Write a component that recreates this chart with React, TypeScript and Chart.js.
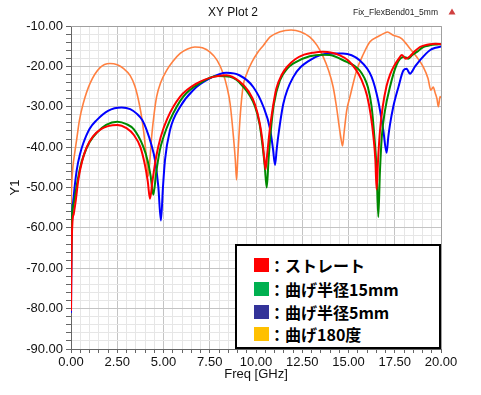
import React, { useEffect, useRef } from 'react';
import { Chart, registerables } from 'chart.js';

Chart.register(...registerables);

// ---- data ----
const seriesNames = ['：ストレート', '：曲げ半径15mm', '：曲げ半径5mm', '：曲げ180度'];
const legendColors = ['#ff0000', '#00b050', '#333399', '#ffc000'];
const lineColors = ['#ff0000', '#008a00', '#0000ff', '#ff8040'];

const xTickMajor = [0, 2.5, 5, 7.5, 10, 12.5, 15, 17.5, 20];
const yTickMajor = [-90, -80, -70, -60, -50, -40, -30, -20, -10];

const redF = [0, 0.03, 0.08, 0.15, 0.25, 0.4, 0.6, 0.85, 1.2, 1.6, 2.0, 2.5, 3.0, 3.4, 3.75, 4.0, 4.15, 4.27, 4.4, 4.6, 4.85, 5.2, 5.9, 6.8, 7.7, 8.4, 9.1, 9.6, 9.95, 10.2, 10.35, 10.45, 10.52, 10.6, 10.75, 10.9, 11.1, 11.4, 11.7, 12.1, 12.6, 13.1, 13.6, 14.1, 14.5, 15.0, 15.4, 15.7, 16.0, 16.2, 16.35, 16.45, 16.52, 16.6, 16.7, 16.85, 17.05, 17.25, 17.45, 17.7, 17.88, 18.1, 18.3, 18.55, 18.86, 19.1, 19.4, 19.7, 20.0];
const redV = [-80.5, -66, -58.5, -56.5, -53.5, -48, -43.5, -40, -37.3, -35.6, -34.8, -34.5, -35.3, -37, -40, -44.5, -48.5, -52.8, -48.5, -42.5, -37.5, -33, -27.5, -24.2, -22.6, -22.2, -23.7, -26.2, -29.5, -34, -38.5, -43, -45.5, -42, -35.5, -30.5, -25.5, -22, -20, -18.3, -17.1, -16.6, -16.4, -16.6, -17.2, -18.6, -20.8, -23.3, -27.2, -32, -37.5, -43, -50.5, -43, -36, -30, -25, -22, -20, -18.2, -17.2, -18.1, -17.6, -16.4, -15.2, -14.8, -14.5, -14.4, -14.5];

const greenF = [0, 0.05, 0.15, 0.31, 0.5, 0.66, 1.0, 1.4, 1.9, 2.5, 3.0, 3.4, 3.9, 4.15, 4.3, 4.45, 4.6, 4.8, 5.0, 5.35, 6.05, 6.95, 7.9, 8.6, 9.3, 9.95, 10.2, 10.35, 10.47, 10.58, 10.68, 10.8, 10.96, 11.3, 11.7, 12.0, 12.9, 13.6, 14.0, 14.9, 15.3, 15.6, 15.85, 16.05, 16.25, 16.4, 16.52, 16.61, 16.7, 16.8, 16.97, 17.24, 17.6, 17.97, 18.1, 18.23, 18.45, 18.7, 19.04, 19.4, 19.7, 20.0];
const greenV = [-72, -58, -54, -49.5, -45, -42.4, -38.8, -36.4, -34.5, -33.7, -34.3, -35.6, -39.8, -43.5, -47, -51.8, -46.5, -40.8, -37.5, -33.3, -27.6, -24.2, -22.4, -22.6, -25, -30, -34.5, -39.5, -44.5, -50, -43, -36, -29.5, -23.4, -20.5, -19.3, -17.5, -17.1, -17.2, -18.9, -19.8, -21, -22.8, -25.2, -30, -37.5, -45.7, -57.3, -46, -37.4, -31, -25.1, -19.6, -17.7, -17.8, -18.1, -17.2, -16.4, -15.2, -14.8, -14.6, -14.5];

const blueF = [0, 0.03, 0.08, 0.15, 0.31, 0.5, 0.66, 1.0, 1.39, 2.0, 2.74, 3.2, 3.55, 3.85, 4.09, 4.35, 4.54, 4.72, 4.86, 4.97, 5.08, 5.35, 5.9, 6.6, 7.5, 8.4, 9.1, 9.85, 10.4, 10.76, 10.92, 11.03, 11.12, 11.2, 11.48, 12.02, 12.9, 14.0, 14.7, 15.6, 16.25, 16.6, 16.88, 17.06, 17.15, 17.24, 17.42, 17.7, 17.97, 18.14, 18.32, 18.6, 18.86, 19.4, 19.7, 20.0];
const blueV = [-81, -64, -56, -52, -45.7, -41.5, -39.1, -35.5, -33.3, -31, -30.2, -30.6, -31.7, -33.3, -35.8, -39.5, -43.2, -49.8, -58.2, -50, -43.2, -35.8, -30, -25.9, -23, -21.6, -22.2, -25.1, -30, -35.5, -40.5, -44.4, -40.5, -37.4, -29.2, -22.6, -18.5, -16.8, -16.8, -18.5, -22.6, -28.4, -35.8, -41.4, -37.5, -34.5, -30, -25.1, -21, -20.6, -21.8, -20, -18.5, -16, -15.4, -15.1];

const orangeF = [0, 0.04, 0.1, 0.2, 0.31, 0.45, 0.66, 1.03, 1.57, 2.1, 2.5, 2.83, 3.2, 3.46, 3.7, 3.85, 4.0, 4.12, 4.18, 4.25, 4.36, 4.5, 4.63, 4.85, 5.17, 5.5, 5.9, 6.3, 6.7, 7.1, 7.5, 7.9, 8.23, 8.45, 8.6, 8.78, 8.88, 8.95, 9.02, 9.15, 9.3, 9.5, 9.77, 10.1, 10.4, 10.76, 11.3, 11.9, 12.4, 12.9, 13.3, 13.64, 13.9, 14.17, 14.35, 14.5, 14.6, 14.68, 14.76, 14.9, 15.08, 15.44, 15.8, 16.16, 16.6, 16.97, 17.1, 17.42, 17.87, 18.32, 18.69, 19.04, 19.3, 19.45, 19.58, 19.68, 19.78, 19.86, 19.95, 20.0];
const orangeV = [-54, -49, -45, -41.5, -38, -33.5, -29.2, -24.2, -20.3, -19.3, -19.6, -20.5, -22.3, -25, -29.5, -33.5, -39, -45, -47.2, -44, -37.4, -31.5, -27.5, -24, -21, -18.8, -16.8, -15.7, -15.2, -15.4, -16.4, -18.5, -21.8, -25.5, -29.2, -37.4, -43, -48.1, -42, -32, -25, -21.8, -19, -16.5, -14.8, -12.7, -11.4, -11.0, -11.4, -12.7, -14.8, -17.7, -20.7, -25.1, -30, -35, -38, -39.7, -36.5, -31, -27.5, -21, -17, -13.9, -12.6, -11.7, -11.5, -12.3, -13.1, -15.6, -17.7, -20.1, -23, -25.9, -25.1, -26.5, -28, -30, -27.5, -27.8];

const seriesF = [redF, greenF, blueF, orangeF];
const seriesV = [redV, greenV, blueV, orangeV];

const isMajor = (v: number, list: number[]) => list.some((m) => Math.abs(m - v) < 1e-6);

const FONT = "'Liberation Sans', Arial, sans-serif";

const decorPlugin = {
  id: 'decor',
  afterDraw(chart: any) {
    const { ctx, chartArea } = chart;
    ctx.save();
    // top and right frame
    ctx.strokeStyle = '#a0a0a0';
    ctx.lineWidth = 1;
    ctx.beginPath();
    ctx.moveTo(chartArea.left, chartArea.top + 0.5);
    ctx.lineTo(chartArea.right + 0.5, chartArea.top + 0.5);
    ctx.lineTo(chartArea.right + 0.5, chartArea.bottom);
    ctx.stroke();
    // title
    ctx.fillStyle = '#111';
    ctx.font = `12px ${FONT}`;
    ctx.textAlign = 'center';
    ctx.textBaseline = 'middle';
    ctx.fillText('XY Plot 2', 233, 13);
    // file name
    ctx.font = `8.5px ${FONT}`;
    ctx.fillStyle = '#222';
    ctx.textAlign = 'right';
    ctx.fillText('Fix_FlexBend01_5mm', 438, 13);
    // marker triangle
    ctx.fillStyle = '#d04040';
    ctx.beginPath();
    ctx.moveTo(452, 8.5);
    ctx.lineTo(455.5, 14.5);
    ctx.lineTo(448.5, 14.5);
    ctx.closePath();
    ctx.fill();
    ctx.restore();
  },
};

export default function App() {
  const canvasRef = useRef<HTMLCanvasElement | null>(null);

  useEffect(() => {
    if (!canvasRef.current) return;
    const datasets = seriesF.map((fs, i) => ({
      label: seriesNames[i],
      data: fs.map((f, k) => ({ x: f, y: seriesV[i][k] })),
      borderColor: lineColors[i],
      backgroundColor: lineColors[i],
      borderWidth: i === 3 ? 1.6 : 2,
      pointRadius: 0,
      cubicInterpolationMode: 'monotone' as const,
      fill: false,
    }));
    const gridColor = (list: number[]) => (c: any) =>
      c.tick && isMajor(c.tick.value, list) ? '#c4c4c4' : '#e6e6e6';
    const chart = new Chart(canvasRef.current, {
      type: 'line',
      data: { datasets },
      plugins: [decorPlugin],
      options: {
        animation: false,
        responsive: false,
        maintainAspectRatio: false,
        layout: { padding: { top: 26, right: 40, left: 0, bottom: 0 } },
        plugins: { legend: { display: false }, tooltip: { enabled: false }, title: { display: false } },
        scales: {
          x: {
            type: 'linear',
            min: 0,
            max: 20,
            afterFit: (s: any) => { s.height = 46; },
            ticks: {
              stepSize: 0.5,
              autoSkip: false,
              maxRotation: 0,
              padding: 2,
              color: '#111',
              font: { family: FONT, size: 13 },
              callback: (v: any) => (isMajor(Number(v), xTickMajor) ? Number(v).toFixed(2) : ''),
            },
            grid: { color: gridColor(xTickMajor), tickColor: '#666', tickLength: 4, drawTicks: true },
            border: { color: '#666', width: 1 },
            title: { display: true, text: 'Freq [GHz]', color: '#111', font: { family: FONT, size: 13 }, padding: { top: 0, bottom: 13 } },
          },
          y: {
            type: 'linear',
            min: -90,
            max: -10,
            afterFit: (s: any) => { s.width = 71; },
            ticks: {
              stepSize: 2,
              autoSkip: false,
              padding: 3,
              color: '#111',
              font: { family: FONT, size: 13 },
              callback: (v: any) => (isMajor(Number(v), yTickMajor) ? Number(v).toFixed(2) : ''),
            },
            grid: { color: gridColor(yTickMajor), tickColor: '#666', tickLength: 5, drawTicks: true },
            border: { color: '#666', width: 1 },
            title: { display: true, text: 'Y1', color: '#111', font: { family: FONT, size: 13 }, padding: { top: 8, bottom: 0 } },
          },
        },
      },
    });
    return () => chart.destroy();
  }, []);

  const rowCenters = [21, 45, 68, 90];

  return (
    <div style={{ position: 'fixed', left: 0, top: 0, width: 481, height: 395, background: '#fff' }}>
      <canvas ref={canvasRef} width={481} height={395} style={{ width: 481, height: 395, display: 'block' }} />
      <div
        style={{
          position: 'absolute',
          left: 235,
          top: 244,
          width: 206,
          height: 105,
          boxSizing: 'border-box',
          border: '2px solid #000',
          background: '#fff',
        }}
      >
        {seriesNames.map((name, i) => (
          <div
            key={name}
            style={{
              position: 'absolute',
              left: 17,
              top: rowCenters[i] - 2 - 12,
              height: 24,
              display: 'flex',
              alignItems: 'center',
              whiteSpace: 'nowrap',
            }}
          >
            <span style={{ display: 'inline-block', width: 15, height: 14, background: legendColors[i] }} />
            <span
              style={{
                fontFamily: "'Noto Sans CJK JP', sans-serif",
                fontWeight: 700,
                fontSize: 16,
                lineHeight: '24px',
                color: '#000',
              }}
            >
              {name}
            </span>
          </div>
        ))}
      </div>
    </div>
  );
}
